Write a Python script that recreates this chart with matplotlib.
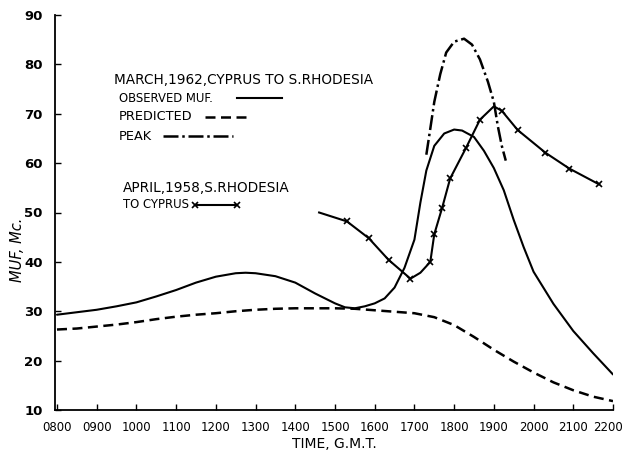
import matplotlib
matplotlib.use("Agg")
import matplotlib.pyplot as plt
from matplotlib.transforms import ScaledTranslation

# ---- data ----
obs_h = [8.0, 8.5, 9.0, 9.5, 10.0, 10.5, 11.0, 11.5, 12.0, 12.5, 12.75, 13.0, 13.5, 14.0,
         14.5, 15.0, 15.25, 15.5, 15.75, 16.0, 16.25, 16.5, 16.75, 17.0, 17.15, 17.3, 17.5,
         17.75, 18.0, 18.2, 18.5, 18.75, 19.0, 19.25, 19.5, 19.75, 20.0, 20.5, 21.0, 21.5, 22.0]
obs_v = [29.3, 29.8, 30.3, 31.0, 31.8, 33.0, 34.3, 35.8, 37.0, 37.7, 37.8, 37.7, 37.1, 35.8,
         33.6, 31.6, 30.8, 30.6, 31.0, 31.6, 32.6, 34.8, 38.8, 44.5, 52.0, 58.5, 63.5,
         66.0, 66.8, 66.6, 65.3, 62.5, 59.0, 54.5, 48.5, 43.0, 38.0, 31.5, 26.0, 21.5, 17.2]

pred_h = [8.0, 8.5, 9.0, 9.5, 10.0, 10.5, 11.0, 11.5, 12.0, 12.5, 13.0, 13.5, 14.0, 14.5,
          15.0, 15.5, 16.0, 16.5, 17.0, 17.5, 18.0, 18.5, 19.0, 19.5, 20.0, 20.5, 21.0, 21.5, 22.0]
pred_v = [26.3, 26.5, 26.9, 27.3, 27.8, 28.4, 28.9, 29.3, 29.6, 30.0, 30.3, 30.5, 30.6, 30.6,
          30.6, 30.5, 30.2, 29.9, 29.6, 28.8, 27.2, 24.8, 22.2, 19.8, 17.6, 15.6, 14.0, 12.7, 11.8]

peak_h = [17.3, 17.4, 17.5, 17.65, 17.8, 18.0, 18.25, 18.45, 18.65, 18.85, 19.0, 19.1, 19.2, 19.3]
peak_v = [61.7, 67.0, 72.4, 78.0, 82.4, 84.6, 85.2, 84.0, 81.0, 76.5, 72.4, 67.5, 63.5, 60.5]

apr_h = [14.6, 15.3, 15.85, 16.35, 16.9, 17.15, 17.4, 17.5, 17.7, 17.9, 18.3, 18.65, 19.0,
         19.2, 19.6, 20.3, 20.9, 21.65]
apr_v = [50.0, 48.2, 44.8, 40.4, 36.6, 37.8, 40.0, 45.6, 51.0, 56.9, 63.1, 68.8, 71.5,
         70.6, 66.7, 62.1, 58.9, 55.7]
apr_marked = [1, 2, 3, 4, 6, 7, 8, 9, 10, 11, 13, 14, 15, 16, 17]

hour_ticks = list(range(8, 23))
hour_labels = ["%02d00" % h for h in hour_ticks]
muf_ticks = [10, 20, 30, 40, 50, 60, 70, 80, 90]

plt.rcParams['font.family'] = ['DejaVu Sans']

fig = plt.figure(figsize=(6.26, 4.53), dpi=100)
ax = fig.add_axes([55/626, 1-410/453, (613-55)/626, (410-15)/453])

k = 'black'
ax.plot(obs_h, obs_v, color=k, lw=1.5, solid_capstyle='round')
ax.plot(pred_h, pred_v, color=k, lw=1.8, dashes=(4, 2.2))
ax.plot(peak_h, peak_v, color=k, lw=1.8, dashes=(6, 1.5, 1, 1.5))
ax.plot(apr_h, apr_v, color=k, lw=1.5, marker='x', markersize=4.5, markeredgewidth=1.2,
        markevery=apr_marked)

ax.set_xlim(7.95, 22.0)
ax.set_ylim(10, 90)
ax.set_xticks(hour_ticks)
ax.set_xticklabels(hour_labels)
ax.set_yticks(muf_ticks)
for s in ['top', 'right']:
    ax.spines[s].set_visible(False)
for s in ['left', 'bottom']:
    ax.spines[s].set_linewidth(1.3)
ax.tick_params(axis='x', direction='in', length=4, width=1.0, labelsize=8.5, pad=8)
ax.tick_params(axis='y', direction='in', length=4, width=1.0, labelsize=9.5, pad=9)
for t in ax.get_yticklabels():
    t.set_fontweight('bold')
xl = ax.get_xticklabels()
xl[-1].set_transform(xl[-1].get_transform() + ScaledTranslation(-5/100, 0, fig.dpi_scale_trans))

ax.set_xlabel("TIME, G.M.T.", fontsize=10, labelpad=2)
fig.text(17/626, 1-250/453, "MUF, Mc.", rotation=90, fontsize=10.5, style='italic',
         ha='center', va='center')

# legend-like annotations
def px(x, y):
    return (x/626, 1-y/453)

fig.text(*px(114, 80), "MARCH,1962,CYPRUS TO S.RHODESIA", fontsize=9.8, va='center')
fig.text(*px(119, 99), "OBSERVED MUF.", fontsize=8.4, va='center')
fig.text(*px(119, 117), "PREDICTED", fontsize=9.3, va='center')
fig.text(*px(119, 136), "PEAK", fontsize=9.3, va='center')
fig.text(*px(123, 188), "APRIL,1958,S.RHODESIA", fontsize=9.8, va='center')
fig.text(*px(123, 205), "TO CYPRUS", fontsize=8.4, va='center')

def fl(x1, x2, y, **kw):
    a = px(x1, y); b = px(x2, y)
    fig.add_artist(plt.Line2D([a[0], b[0]], [a[1], b[1]], color=k, transform=fig.transFigure, **kw))

fl(237, 282, 98, lw=1.5)
fl(205, 250, 117, lw=1.8, dashes=(4, 2.2))
fl(163, 233, 136, lw=1.8, dashes=(6, 1.5, 1, 1.5))
a = px(195, 205); b = px(237, 205)
fig.add_artist(plt.Line2D([a[0], b[0]], [a[1], b[1]], color=k, lw=1.5, marker='x',
                          markersize=4.5, markeredgewidth=1.2, transform=fig.transFigure))

fig.savefig("out.png", dpi=100)
